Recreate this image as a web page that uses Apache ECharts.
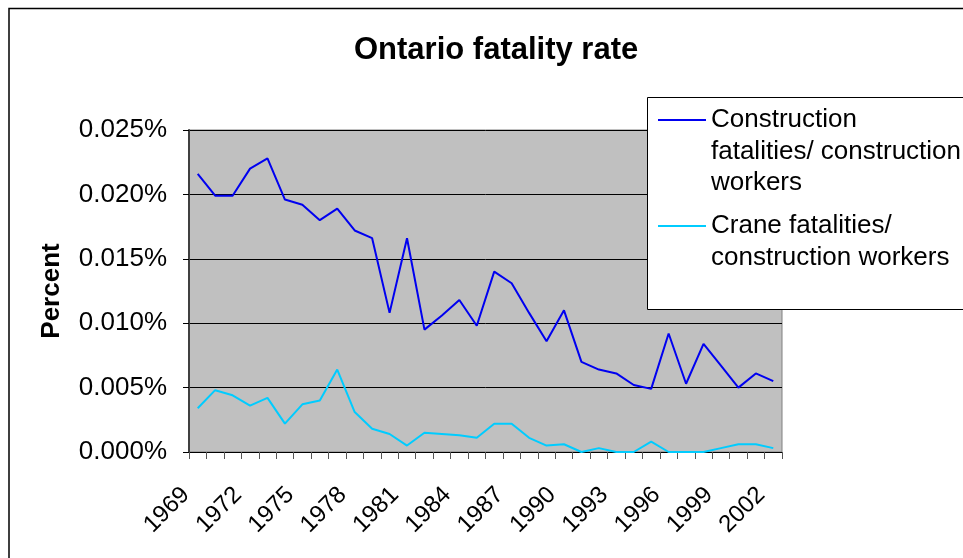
<!DOCTYPE html>
<html>
<head>
<meta charset="utf-8">
<script src="https://cdn.jsdelivr.net/npm/echarts@6/dist/echarts.min.js"></script>
<style>
html,body{margin:0;padding:0;background:#fff;}
#chart{width:963px;height:558px;}
</style>
</head>
<body>
<div id="chart"></div>
<script>
const years = ['1969','1970','1971','1972','1973','1974','1975','1976','1977','1978','1979','1980','1981','1982','1983','1984','1985','1986','1987','1988','1989','1990','1991','1992','1993','1994','1995','1996','1997','1998','1999','2000','2001','2002'];
const constructionRate = [0.0216,0.0199,0.0199,0.0220,0.0228,0.0196,0.0192,0.0180,0.0189,0.0172,0.0166,0.0108,0.0166,0.0095,0.0106,0.0118,0.0098,0.0140,0.0131,0.0108,0.0086,0.0110,0.0070,0.0064,0.0061,0.0052,0.0049,0.0092,0.0053,0.0084,0.0067,0.0050,0.0061,0.0055];
const craneRate = [0.0034,0.0048,0.0044,0.0036,0.0042,0.0022,0.0037,0.0040,0.0064,0.0031,0.0018,0.0014,0.0005,0.0015,0.0014,0.0013,0.0011,0.0022,0.0022,0.0011,0.0005,0.0006,0.0000,0.0003,0.0000,0.0000,0.0008,0.0000,0.0000,0.0000,0.0003,0.0006,0.0006,0.0003];
const seriesNames = ['Construction\nfatalities/ construction\nworkers','Crane fatalities/\nconstruction workers'];
const titleText = 'Ontario fatality rate';
const yName = 'Percent';

const FONT = '"Liberation Sans", Arial, sans-serif';
const legendText = {fontFamily:FONT,fontSize:26,lineHeight:31.5,color:'#000'};
const chart = echarts.init(document.getElementById('chart'), null, {renderer:'canvas'});
chart.setOption({
  animation:false,
  backgroundColor:'#ffffff',
  title:{text:titleText,left:349,top:30,textStyle:{fontFamily:FONT,fontSize:31,fontWeight:'bold',color:'#000'}},
  grid:{left:189,top:130,right:181,bottom:106,show:true,backgroundColor:'#C0C0C0',borderColor:'#808080',borderWidth:1},
  legend:[
    {data:[seriesNames[0]],left:657,top:120-2.5*31.5,padding:0,itemWidth:48,itemHeight:2,z:20,
     formatter:n=>'\n\n'+n,textStyle:legendText},
    {data:[seriesNames[1]],left:657,top:226-1.5*31.5,padding:0,itemWidth:48,itemHeight:2,z:20,
     formatter:n=>'\n'+n,textStyle:legendText}
  ],
  xAxis:{type:'category',data:years,boundaryGap:true,
    axisLine:{lineStyle:{color:'#000',width:1}},
    axisTick:{show:true,interval:0,length:7,lineStyle:{color:'#555'}},
    axisLabel:{interval:2,rotate:45,margin:27,padding:[0,17,0,0],fontFamily:FONT,fontSize:24,color:'#000'},
    splitLine:{show:false}},
  yAxis:{type:'value',min:0,max:0.025,interval:0.005,name:yName,nameLocation:'middle',nameRotate:90,nameGap:124,
    nameTextStyle:{fontFamily:FONT,fontSize:26,fontWeight:'bold',color:'#000'},
    axisLine:{show:true,lineStyle:{color:'#404040',width:2}},
    axisTick:{show:true,length:6,lineStyle:{color:'#000'}},
    axisLabel:{margin:22,fontFamily:FONT,fontSize:26,color:'#000',formatter:v=>v.toFixed(3)+'%'},
    splitLine:{show:true,lineStyle:{color:'#000',width:1}}},
  series:[
    {name:seriesNames[0],type:'line',data:constructionRate,symbol:'none',color:'#0000F0',lineStyle:{color:'#0000F0',width:2},z:3},
    {name:seriesNames[1],type:'line',data:craneRate,symbol:'none',color:'#00CCFF',lineStyle:{color:'#00CCFF',width:2},z:3}
  ],
  graphic:[
    {type:'rect',shape:{x:9,y:8.5,width:1000,height:600},style:{fill:'none',stroke:'#000',lineWidth:1.5},z:1,silent:true},
    {type:'rect',shape:{x:647.5,y:97.5,width:340,height:212},style:{fill:'#fff',stroke:'#000',lineWidth:1},z:10,silent:true}
  ]
});
</script>
</body>
</html>
